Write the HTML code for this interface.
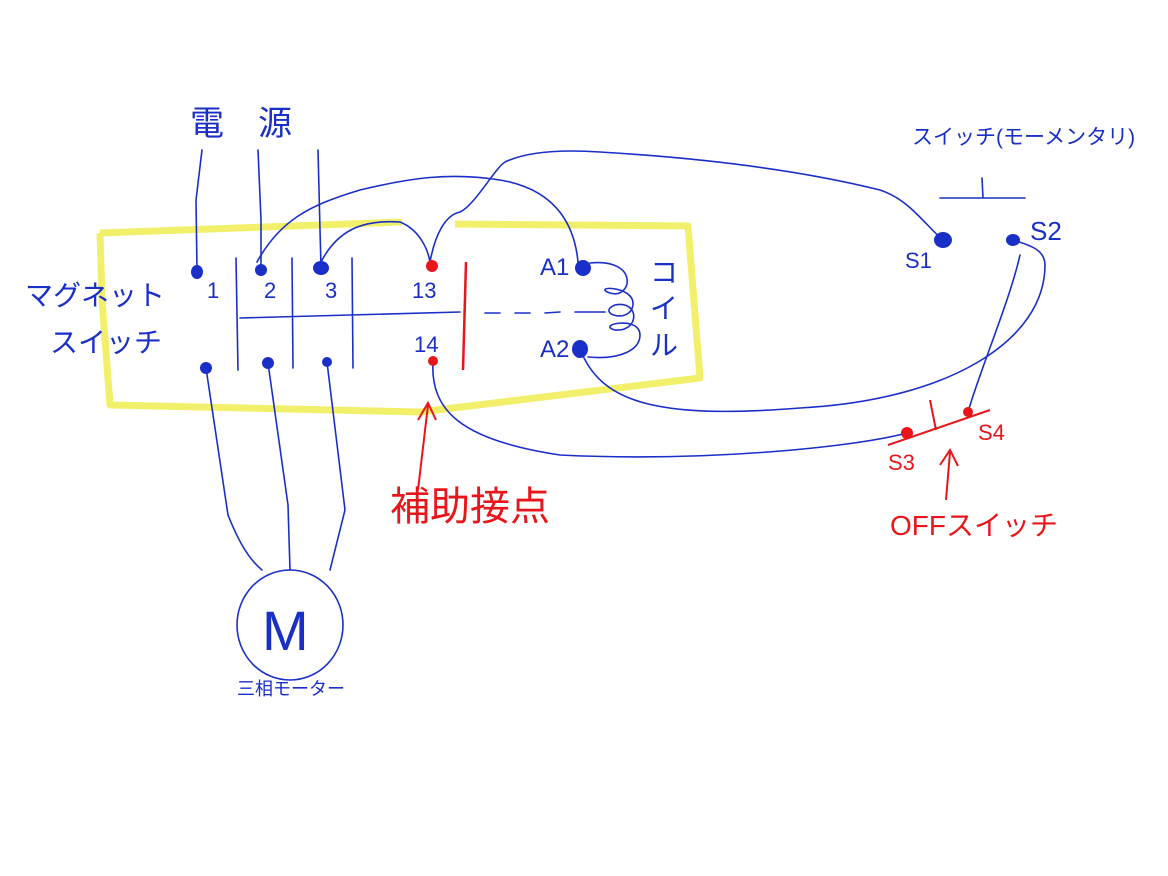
<!DOCTYPE html>
<html><head><meta charset="utf-8"><style>
html,body{margin:0;padding:0;background:#fff;width:1168px;height:876px;overflow:hidden}
svg{display:block}
.b{fill:none;stroke:#1a2fc8;stroke-width:1.6;stroke-linecap:round}
.t{font-family:"Liberation Sans","Noto Sans CJK JP",sans-serif;fill:#1a2fc8}
.r{font-family:"Liberation Sans","Noto Sans CJK JP",sans-serif;fill:#e8161a}
</style></head><body>
<svg width="1168" height="876" viewBox="0 0 1168 876" xmlns="http://www.w3.org/2000/svg">
<path d="M100,233 L102,300 L110,405 L420,412 L700,378 L688,226 L455,224 M402,222 L100,233" fill="none" stroke="#f2f06a" stroke-width="7" stroke-linejoin="round"/>
<text class="t" x="190" y="135" font-size="34">電</text>
<text class="t" x="258" y="135" font-size="34">源</text>
<text class="t" x="25" y="305" font-size="28">マグネット</text>
<text class="t" x="50" y="352" font-size="28">スイッチ</text>
<text class="t" x="912" y="144" font-size="21">スイッチ(モーメンタリ)</text>
<text class="t" x="207" y="298" font-size="22">1</text>
<text class="t" x="264" y="298" font-size="22">2</text>
<text class="t" x="325" y="298" font-size="22">3</text>
<text class="t" x="412" y="298" font-size="22">13</text>
<text class="t" x="414" y="352" font-size="22">14</text>
<text class="t" x="540" y="275" font-size="24">A1</text>
<text class="t" x="540" y="357" font-size="24">A2</text>
<text class="t" x="650" y="282" font-size="28">コ</text>
<text class="t" x="650" y="318" font-size="28">イ</text>
<text class="t" x="650" y="355" font-size="28">ル</text>
<text class="t" x="905" y="268" font-size="22">S1</text>
<text class="t" x="1030" y="240" font-size="26">S2</text>
<text class="t" x="237" y="695" font-size="18">三相モーター</text>
<text class="t" x="262" y="650" font-size="56">M</text>
<text class="r" x="888" y="470" font-size="22">S3</text>
<text class="r" x="978" y="440" font-size="22">S4</text>
<text class="r" x="390" y="520" font-size="40">補助接点</text>
<text class="r" x="890" y="535" font-size="28">OFFスイッチ</text>
<path class="b" d="M202,150 L196,200 L197,270"/>
<path class="b" d="M258,150 L261,220 L261,268"/>
<path class="b" d="M318,150 L320,230 L321,266"/>
<path class="b" d="M236,258 L238,370 M292,258 L293,368 M352,258 L353,368 M240,318 L460,312"/>
<path class="b" d="M485,313 L500,313 M515,313 L530,313 M545,313 L560,312 M575,312 L605,312"/>
<!-- 2 -> A1 -->
<path class="b" d="M257,262 C280,220 310,205 360,190 C410,178 450,172 500,180 C560,190 575,230 578,262"/>
<!-- 3 -> 13 -->
<path class="b" d="M321,262 C340,225 370,220 400,222 C420,230 428,250 430,262"/>
<!-- 13 -> S1 -->
<path class="b" d="M430,262 C435,235 445,215 460,212 C475,205 495,168 505,162 C530,150 570,150 600,152 C700,158 800,170 880,190 C910,200 925,225 943,240"/>
<path class="b" d="M433,361 C430,410 460,440 560,455 C700,462 850,448 907,433"/>
<path class="b" d="M580,349 C600,400 650,420 800,408 C950,400 1045,340 1045,265 C1045,250 1030,245 1013,240"/>
<path class="b" d="M1020,255 C1010,300 980,370 968,412"/>
<path class="b" d="M590,263 C640,258 632,300 610,293 C590,286 635,285 633,305 C630,325 595,313 615,305 C640,300 640,332 615,330 C595,325 640,315 640,335 C640,350 620,360 588,357"/>
<path class="b" d="M940,198 L1025,198 M982,178 L983,198"/>
<path class="b" d="M206,368 L228,515 C240,545 250,560 262,570"/>
<path class="b" d="M268,363 L288,505 L290,570"/>
<path class="b" d="M327,362 L345,510 L330,570"/>
<ellipse class="b" cx="290" cy="625" rx="53" ry="55"/>
<path d="M466,262 L463,370" stroke="#e8161a" stroke-width="2.5" fill="none"/>
<path d="M888,445 L990,410 M930,400 L936,430" stroke="#e8161a" stroke-width="2" fill="none"/>
<path d="M418,490 L428,405 M418,420 L428,403 L436,420" stroke="#e8161a" stroke-width="2" fill="none"/>
<path d="M946,500 L950,452 M940,465 L950,450 L958,466" stroke="#e8161a" stroke-width="2" fill="none"/>
<g fill="#1a2fc8">
<ellipse cx="197" cy="272" rx="6" ry="7"/>
<ellipse cx="261" cy="270" rx="6" ry="6"/>
<ellipse cx="321" cy="268" rx="8" ry="7"/>
<ellipse cx="583" cy="268" rx="8" ry="8"/>
<ellipse cx="580" cy="349" rx="8" ry="9"/>
<ellipse cx="206" cy="368" rx="6" ry="6"/>
<ellipse cx="268" cy="363" rx="6" ry="6"/>
<ellipse cx="327" cy="362" rx="5" ry="5"/>
<ellipse cx="943" cy="240" rx="9" ry="8"/>
<ellipse cx="1013" cy="240" rx="7" ry="6"/>
</g>
<g fill="#e8161a">
<circle cx="432" cy="266" r="6"/>
<circle cx="433" cy="361" r="5"/>
<circle cx="907" cy="433" r="6"/>
<circle cx="968" cy="412" r="5"/>
</g>
</svg>
</body></html>
